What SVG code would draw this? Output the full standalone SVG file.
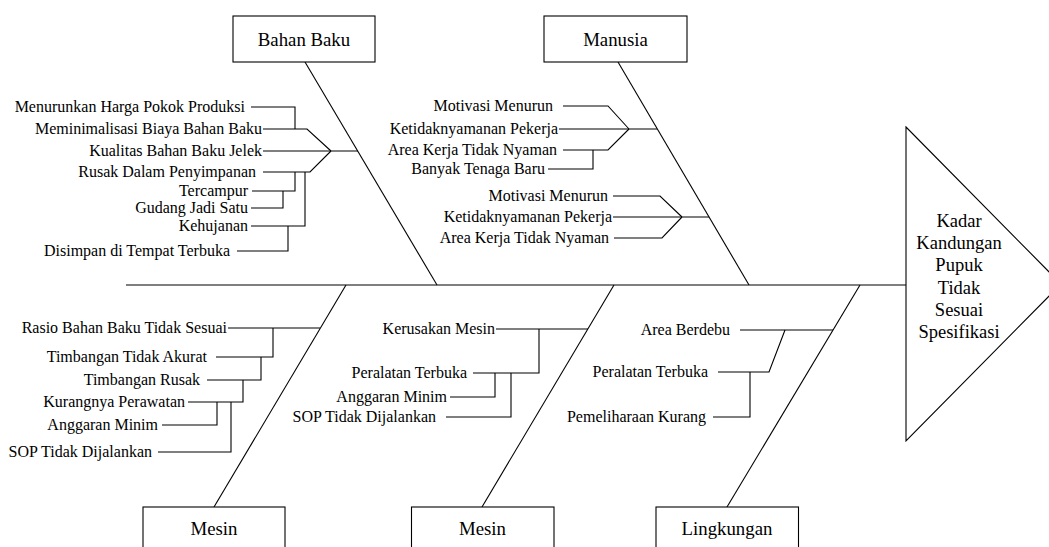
<svg xmlns="http://www.w3.org/2000/svg" width="1049" height="547" viewBox="0 0 1049 547">
<style>
.ln{fill:none;stroke:#000;stroke-width:1.1}
.box{fill:#fff;stroke:#000;stroke-width:1.1}
.lbl{font-family:"Liberation Serif","Times New Roman",serif;font-size:16px;text-anchor:end;fill:#000}
.ttl{font-family:"Liberation Serif","Times New Roman",serif;font-size:18.8px;text-anchor:middle;fill:#000}
.hd{font-family:"Liberation Serif","Times New Roman",serif;font-size:18.5px;text-anchor:middle;fill:#000}
</style>
<rect width="1049" height="547" fill="#fff"/>
<g id="connectors">
  <path class="ln" d="M126 285 H906"/>
  <path class="ln" d="M305 62 L437 285"/>
  <path class="ln" d="M618 62 L749 285"/>
  <path class="ln" d="M346 285 L214 507"/>
  <path class="ln" d="M614 285 L482 507"/>
  <path class="ln" d="M860 285 L727 507"/>
  <!-- Bahan Baku -->
  <path class="ln" d="M251 107 H295 V129"/>
  <path class="ln" d="M263 129 H307 L331 151"/>
  <path class="ln" d="M263 151 H358"/>
  <path class="ln" d="M263 172 H310 L331 151"/>
  <path class="ln" d="M252 191 H295 V172"/>
  <path class="ln" d="M251 208 H283 V191"/>
  <path class="ln" d="M251 226 H305 V172"/>
  <path class="ln" d="M237 251 H288 V226"/>
  <!-- Manusia -->
  <path class="ln" d="M563 106 H608 L629 129"/>
  <path class="ln" d="M559 129 H657"/>
  <path class="ln" d="M563 150 H608 L629 129"/>
  <path class="ln" d="M548 169 H593 V150"/>
  <path class="ln" d="M613 196 H660 L682 217"/>
  <path class="ln" d="M613 217 H709"/>
  <path class="ln" d="M614 238 H662 L682 217"/>
  <!-- Mesin 1 -->
  <path class="ln" d="M228 328 H320"/>
  <path class="ln" d="M216 357 H273 V328"/>
  <path class="ln" d="M207 380 H261 V357"/>
  <path class="ln" d="M188 402 H243 V380"/>
  <path class="ln" d="M162 425 H217 V402"/>
  <path class="ln" d="M158 452 H231 V402"/>
  <!-- Mesin 2 -->
  <path class="ln" d="M496 329 H588"/>
  <path class="ln" d="M473 373 H539 V329"/>
  <path class="ln" d="M450 397 H495 V373"/>
  <path class="ln" d="M446 417 H511 V373"/>
  <!-- Lingkungan -->
  <path class="ln" d="M740 330 H833"/>
  <path class="ln" d="M718 372 H769 L785 330"/>
  <path class="ln" d="M713 417 H750 V372"/>
</g>
<g id="node-bahan-baku"><rect class="box" x="233" y="16" width="142" height="46"/><text class="ttl" x="304" y="46">Bahan Baku</text></g>
<g id="node-manusia"><rect class="box" x="544" y="16" width="143" height="46"/><text class="ttl" x="615.5" y="46">Manusia</text></g>
<g id="node-mesin-1"><rect class="box" x="143" y="507" width="142" height="46"/><text class="ttl" x="214" y="535">Mesin</text></g>
<g id="node-mesin-2"><rect class="box" x="411.5" y="507" width="142.5" height="46"/><text class="ttl" x="482.5" y="535">Mesin</text></g>
<g id="node-lingkungan"><rect class="box" x="656" y="507" width="142.5" height="46"/><text class="ttl" x="727" y="535">Lingkungan</text></g>
<g id="node-head">
  <polygon class="box" points="906,127 1061,284 906,441"/>
  <text class="hd" x="959" y="226.5">Kadar</text>
  <text class="hd" x="959" y="249">Kandungan</text>
  <text class="hd" x="959" y="271.3">Pupuk</text>
  <text class="hd" x="959" y="293.5">Tidak</text>
  <text class="hd" x="959" y="315.7">Sesuai</text>
  <text class="hd" x="959" y="338">Spesifikasi</text>
</g>
<g id="labels-bahan-baku">
  <text id="bb1" class="lbl" x="245" y="111.5">Menurunkan Harga Pokok Produksi</text>
  <text id="bb2" class="lbl" x="262" y="133.5">Meminimalisasi Biaya Bahan Baku</text>
  <text id="bb3" class="lbl" x="262" y="155.5">Kualitas Bahan Baku Jelek</text>
  <text id="bb4" class="lbl" x="256" y="176.5">Rusak Dalam Penyimpanan</text>
  <text id="bb5" class="lbl" x="248" y="195.5">Tercampur</text>
  <text id="bb6" class="lbl" x="248" y="212.5">Gudang Jadi Satu</text>
  <text id="bb7" class="lbl" x="248" y="230.5">Kehujanan</text>
  <text id="bb8" class="lbl" x="230" y="255.5">Disimpan di Tempat Terbuka</text>
</g>
<g id="labels-manusia">
  <text id="mn1" class="lbl" x="553" y="110.5">Motivasi Menurun</text>
  <text id="mn2" class="lbl" x="558" y="133.5">Ketidaknyamanan Pekerja</text>
  <text id="mn3" class="lbl" x="557" y="154.5">Area Kerja Tidak Nyaman</text>
  <text id="mn4" class="lbl" x="545" y="173.5">Banyak Tenaga Baru</text>
  <text id="mn5" class="lbl" x="608" y="200.5">Motivasi Menurun</text>
  <text id="mn6" class="lbl" x="612" y="221.5">Ketidaknyamanan Pekerja</text>
  <text id="mn7" class="lbl" x="609" y="242.5">Area Kerja Tidak Nyaman</text>
</g>
<g id="labels-mesin-1">
  <text id="ms1" class="lbl" x="227" y="332.5">Rasio Bahan Baku Tidak Sesuai</text>
  <text id="ms2" class="lbl" x="207" y="361.5">Timbangan Tidak Akurat</text>
  <text id="ms3" class="lbl" x="200" y="384.5">Timbangan Rusak</text>
  <text id="ms4" class="lbl" x="185" y="406.5">Kurangnya Perawatan</text>
  <text id="ms5" class="lbl" x="158" y="429.5">Anggaran Minim</text>
  <text id="ms6" class="lbl" x="152" y="456.5">SOP Tidak Dijalankan</text>
</g>
<g id="labels-mesin-2">
  <text id="mt1" class="lbl" x="495" y="333.5">Kerusakan Mesin</text>
  <text id="mt2" class="lbl" x="467" y="377.5">Peralatan Terbuka</text>
  <text id="mt3" class="lbl" x="447" y="401.5">Anggaran Minim</text>
  <text id="mt4" class="lbl" x="436" y="421.5">SOP Tidak Dijalankan</text>
</g>
<g id="labels-lingkungan">
  <text id="lk1" class="lbl" x="730" y="334.5">Area Berdebu</text>
  <text id="lk2" class="lbl" x="708" y="376.5">Peralatan Terbuka</text>
  <text id="lk3" class="lbl" x="706" y="421.5">Pemeliharaan Kurang</text>
</g>
</svg>
